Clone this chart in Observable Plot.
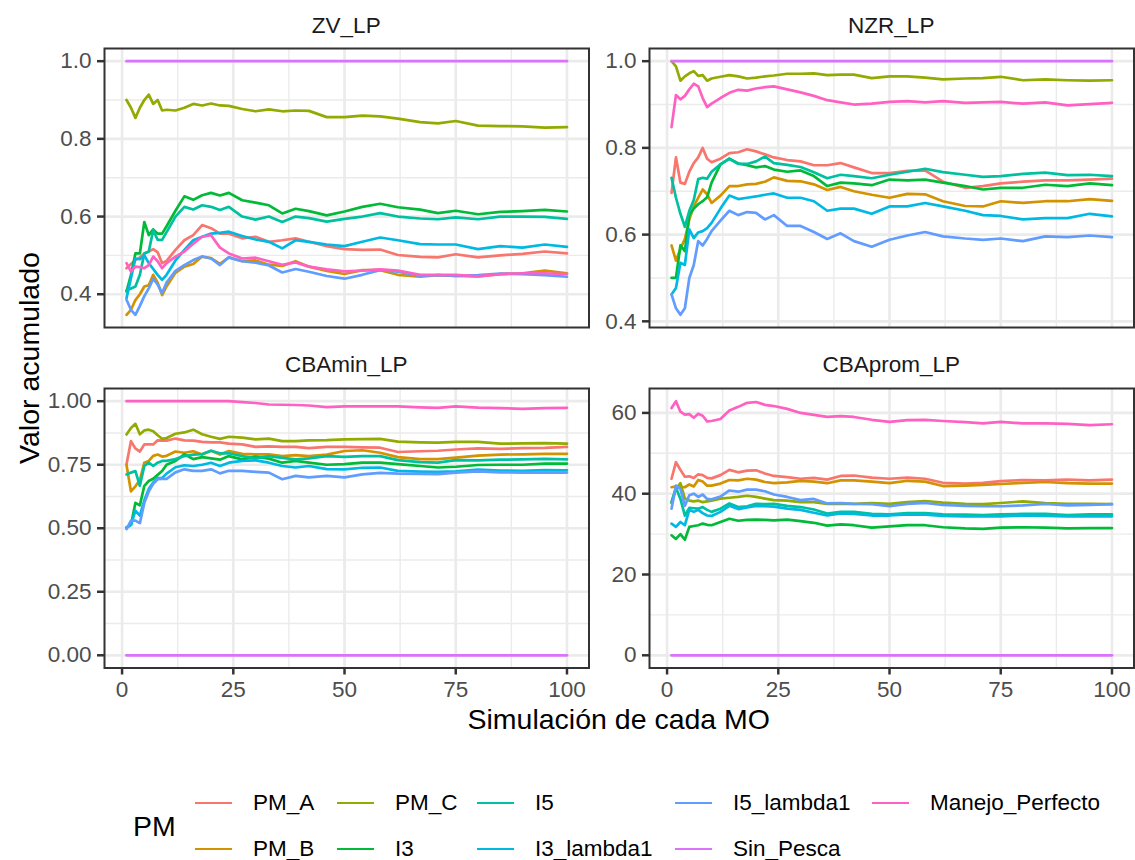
<!DOCTYPE html>
<html>
<head>
<meta charset="utf-8">
<script src="https://cdn.jsdelivr.net/npm/d3@7"></script>
<script src="https://cdn.jsdelivr.net/npm/@observablehq/plot@0.6"></script>
<style>
  html, body { margin: 0; padding: 0; background: #ffffff; }
  #chart { position: relative; width: 1135px; height: 860px; overflow: hidden; background: #ffffff;
           font-family: "Liberation Sans", Arial, sans-serif; }
  #chart svg { position: absolute; overflow: visible; }
  .txt { position: absolute; white-space: nowrap; line-height: 1; }
</style>
</head>
<body>
<div id="chart"></div>
<script>
// ---------------- data ----------------
const seriesNames  = ["PM_A","PM_B","PM_C","I3","I5","I3_lambda1","I5_lambda1","Sin_Pesca","Manejo_Perfecto"];
const seriesColors = ["#F8766D","#D39200","#93AA00","#00BA38","#00C19F","#00B9E3","#619CFF","#DB72FB","#FF61C3"];
const panelNames   = ["ZV_LP","NZR_LP","CBAmin_LP","CBAprom_LP"];

const sims     = [1,2,3,4,5,6,7,8,9,10,12,14,16,18,20,22,24,27,30,33,36,39,42,46,50,54,58,62,67,71,75,80,85,90,95,100];
const simsEnds = [1,100];

const xTicks      = [0,25,50,75,100];
const xMinor      = [12.5,37.5,62.5,87.5];
const yTicksProp  = [0.4,0.6,0.8,1.0];
const yMinorProp  = [0.5,0.7,0.9];
const yTicksMin   = [0,0.25,0.5,0.75,1.0];
const yMinorMin   = [0.125,0.375,0.625,0.875];
const yTicksProm  = [0,20,40,60];
const yMinorProm  = [10,30,50];

// ZV_LP
const zv_PM_A = [0.467,0.478,0.488,0.495,0.505,0.510,0.516,0.508,0.480,0.486,0.514,0.539,0.552,0.578,0.570,0.556,0.556,0.544,0.548,0.535,0.539,0.544,0.535,0.524,0.516,0.514,0.515,0.501,0.496,0.495,0.503,0.495,0.500,0.504,0.510,0.505];
const zv_PM_B = [0.347,0.360,0.385,0.400,0.420,0.423,0.450,0.430,0.398,0.420,0.455,0.471,0.478,0.497,0.493,0.478,0.495,0.485,0.487,0.476,0.473,0.485,0.471,0.460,0.452,0.462,0.462,0.450,0.445,0.449,0.447,0.446,0.452,0.454,0.461,0.454];
const zv_PM_C = [0.900,0.880,0.854,0.880,0.900,0.914,0.890,0.900,0.873,0.875,0.873,0.880,0.890,0.886,0.891,0.886,0.885,0.877,0.871,0.876,0.871,0.873,0.872,0.856,0.856,0.860,0.858,0.852,0.843,0.840,0.846,0.834,0.833,0.832,0.829,0.830];
const zv_I3 = [0.407,0.450,0.505,0.505,0.586,0.552,0.567,0.556,0.556,0.575,0.615,0.652,0.643,0.655,0.661,0.654,0.661,0.642,0.636,0.629,0.608,0.620,0.614,0.603,0.613,0.625,0.633,0.624,0.618,0.609,0.615,0.606,0.612,0.614,0.617,0.613];
const zv_I5 = [0.410,0.415,0.420,0.450,0.505,0.510,0.565,0.540,0.540,0.560,0.600,0.625,0.618,0.629,0.625,0.617,0.625,0.600,0.592,0.600,0.586,0.600,0.596,0.587,0.594,0.600,0.609,0.600,0.595,0.593,0.598,0.593,0.600,0.600,0.599,0.594];
const zv_I3_lambda1 = [0.390,0.441,0.492,0.490,0.500,0.480,0.465,0.450,0.437,0.450,0.487,0.514,0.539,0.548,0.556,0.558,0.561,0.550,0.541,0.535,0.518,0.539,0.535,0.528,0.524,0.535,0.546,0.539,0.529,0.528,0.528,0.516,0.524,0.520,0.528,0.522];
const zv_I5_lambda1 = [0.386,0.360,0.347,0.370,0.395,0.415,0.440,0.425,0.403,0.430,0.460,0.475,0.488,0.497,0.492,0.475,0.495,0.485,0.481,0.474,0.456,0.465,0.458,0.447,0.440,0.450,0.462,0.458,0.447,0.449,0.447,0.449,0.453,0.452,0.449,0.445];
const zv_Sin_Pesca = [1.0,1.0];
const zv_Manejo_Perfecto = [0.480,0.458,0.471,0.470,0.467,0.475,0.497,0.485,0.467,0.480,0.497,0.510,0.530,0.548,0.552,0.520,0.505,0.492,0.494,0.485,0.476,0.482,0.471,0.464,0.459,0.461,0.464,0.461,0.450,0.450,0.450,0.446,0.452,0.454,0.454,0.452];

// NZR_LP
const nzr_PM_A = [0.696,0.778,0.720,0.717,0.745,0.765,0.778,0.800,0.775,0.767,0.775,0.788,0.790,0.797,0.792,0.785,0.778,0.772,0.769,0.760,0.760,0.765,0.755,0.742,0.742,0.747,0.748,0.722,0.708,0.712,0.718,0.722,0.725,0.725,0.727,0.729];
const nzr_PM_B = [0.575,0.540,0.567,0.590,0.635,0.665,0.685,0.704,0.693,0.673,0.690,0.712,0.712,0.716,0.717,0.722,0.732,0.724,0.723,0.716,0.703,0.710,0.700,0.692,0.685,0.694,0.693,0.677,0.666,0.665,0.677,0.673,0.677,0.677,0.682,0.678];
const nzr_PM_C = [1.000,0.988,0.955,0.965,0.972,0.977,0.966,0.968,0.955,0.960,0.964,0.968,0.965,0.960,0.962,0.965,0.967,0.971,0.971,0.972,0.968,0.969,0.969,0.961,0.965,0.965,0.962,0.958,0.960,0.961,0.964,0.956,0.958,0.956,0.955,0.956];
const nzr_I3 = [0.500,0.500,0.575,0.562,0.645,0.660,0.670,0.677,0.686,0.720,0.762,0.775,0.764,0.760,0.755,0.758,0.750,0.745,0.748,0.735,0.712,0.720,0.718,0.714,0.727,0.725,0.727,0.720,0.712,0.704,0.708,0.708,0.715,0.712,0.718,0.714];
const nzr_I5 = [0.731,0.685,0.648,0.618,0.655,0.680,0.728,0.731,0.729,0.745,0.762,0.775,0.763,0.763,0.769,0.780,0.765,0.761,0.756,0.744,0.730,0.738,0.735,0.730,0.738,0.745,0.752,0.744,0.738,0.733,0.735,0.740,0.743,0.737,0.738,0.735];
const nzr_I3_lambda1 = [0.462,0.477,0.535,0.530,0.612,0.592,0.605,0.608,0.615,0.627,0.660,0.690,0.682,0.685,0.688,0.692,0.695,0.685,0.685,0.677,0.655,0.660,0.660,0.648,0.665,0.665,0.673,0.665,0.655,0.645,0.643,0.635,0.638,0.638,0.648,0.642];
const nzr_I5_lambda1 = [0.462,0.430,0.415,0.430,0.500,0.530,0.585,0.575,0.590,0.608,0.632,0.655,0.645,0.652,0.650,0.635,0.645,0.620,0.620,0.606,0.590,0.603,0.585,0.572,0.588,0.598,0.606,0.596,0.591,0.588,0.591,0.585,0.596,0.594,0.598,0.594];
const nzr_Sin_Pesca = [1.0,1.0];
const nzr_Manejo_Perfecto = [0.848,0.922,0.912,0.920,0.935,0.948,0.942,0.915,0.894,0.902,0.915,0.927,0.934,0.932,0.937,0.940,0.942,0.935,0.928,0.920,0.910,0.905,0.900,0.902,0.906,0.908,0.905,0.908,0.904,0.905,0.906,0.902,0.905,0.898,0.901,0.904];

// CBAmin_LP
const cmin_PM_A = [0.752,0.843,0.814,0.802,0.830,0.830,0.830,0.846,0.845,0.845,0.853,0.846,0.845,0.840,0.838,0.838,0.833,0.830,0.820,0.822,0.820,0.820,0.815,0.820,0.820,0.818,0.817,0.800,0.803,0.805,0.810,0.814,0.812,0.815,0.816,0.820];
const cmin_PM_B = [0.749,0.645,0.665,0.690,0.758,0.765,0.785,0.790,0.782,0.785,0.802,0.797,0.803,0.790,0.805,0.790,0.804,0.793,0.791,0.791,0.784,0.788,0.784,0.790,0.804,0.807,0.797,0.780,0.772,0.772,0.778,0.786,0.790,0.791,0.793,0.793];
const cmin_PM_C = [0.869,0.895,0.911,0.870,0.885,0.888,0.882,0.866,0.852,0.855,0.872,0.877,0.888,0.870,0.860,0.852,0.860,0.857,0.850,0.853,0.843,0.843,0.846,0.847,0.850,0.851,0.852,0.841,0.838,0.837,0.840,0.840,0.833,0.834,0.835,0.833];
const cmin_I3 = [0.503,0.513,0.600,0.590,0.667,0.686,0.695,0.710,0.725,0.750,0.765,0.791,0.772,0.780,0.775,0.770,0.784,0.771,0.782,0.774,0.758,0.765,0.758,0.750,0.752,0.758,0.758,0.752,0.745,0.739,0.742,0.749,0.750,0.750,0.754,0.754];
const cmin_I5 = [0.712,0.719,0.725,0.667,0.745,0.758,0.745,0.758,0.765,0.765,0.772,0.784,0.790,0.792,0.805,0.795,0.795,0.784,0.775,0.784,0.777,0.771,0.775,0.784,0.781,0.784,0.784,0.768,0.760,0.758,0.768,0.767,0.770,0.771,0.773,0.771];
const cmin_I3_lambda1 = [0.503,0.513,0.569,0.550,0.610,0.655,0.680,0.697,0.698,0.715,0.740,0.748,0.745,0.750,0.758,0.745,0.758,0.765,0.767,0.758,0.745,0.739,0.745,0.733,0.732,0.738,0.739,0.726,0.723,0.722,0.724,0.731,0.727,0.726,0.729,0.728];
const cmin_I5_lambda1 = [0.497,0.530,0.530,0.520,0.600,0.645,0.675,0.693,0.694,0.694,0.720,0.732,0.726,0.726,0.732,0.716,0.726,0.726,0.722,0.719,0.693,0.706,0.700,0.706,0.700,0.712,0.718,0.715,0.714,0.713,0.719,0.724,0.720,0.719,0.719,0.719];
const cmin_Sin_Pesca = [0.0,0.0];
const cmin_Manejo_Perfecto = [1.000,1.000,1.000,1.000,1.000,1.000,1.000,1.000,1.000,1.000,1.000,1.000,1.000,1.000,1.000,1.000,1.000,0.996,0.993,0.987,0.986,0.985,0.983,0.977,0.980,0.980,0.980,0.980,0.976,0.974,0.980,0.975,0.973,0.970,0.973,0.974];

// CBAprom_LP
const cprom_PM_A = [43.7,47.8,45.9,44.2,44.3,43.9,44.8,44.6,43.9,43.8,44.6,45.9,45.3,45.7,45.8,45.0,44.4,44.1,43.7,43.9,43.5,44.4,44.5,44.0,43.7,44.0,43.7,42.7,42.5,42.7,43.1,43.4,43.3,43.5,43.3,43.5];
const cprom_PM_B = [41.6,41.8,41.7,41.6,42.3,41.8,43.4,43.0,42.0,42.0,42.5,43.4,43.3,43.7,43.5,42.9,42.6,42.8,43.2,43.0,42.6,43.3,43.3,43.0,42.6,43.2,43.0,41.9,42.0,42.2,42.4,42.7,42.9,42.6,42.5,42.5];
const cprom_PM_C = [37.7,41.2,42.6,38.8,38.3,38.1,38.3,37.9,38.1,38.3,38.8,39.0,39.2,39.5,39.2,38.8,38.4,38.3,37.9,37.9,37.5,37.5,37.5,37.7,37.5,37.9,38.2,37.8,37.5,37.4,37.7,38.1,37.7,37.5,37.5,37.4];
const cprom_I3 = [29.7,28.8,30.0,28.6,31.8,32.0,32.2,32.6,32.3,32.2,33.0,33.8,33.3,33.5,33.6,33.5,33.4,33.6,33.2,32.8,32.1,32.4,32.2,31.6,31.9,32.2,32.2,31.7,31.4,31.3,31.6,31.7,31.6,31.4,31.5,31.5];
const cprom_I5 = [38.0,41.5,38.7,34.6,36.5,36.4,36.3,36.7,36.0,35.5,36.3,37.6,36.7,36.9,37.5,37.4,37.5,37.0,36.7,36.1,35.1,35.5,35.5,35.0,34.9,35.2,35.2,34.9,34.8,34.7,34.9,35.0,35.0,34.7,34.9,34.9];
const cprom_I3_lambda1 = [32.6,31.8,33.0,32.2,36.0,35.5,36.0,35.2,34.6,34.5,35.5,37.0,36.2,36.6,37.0,36.9,36.8,36.3,36.0,35.3,34.6,35.1,35.0,34.6,34.6,34.9,34.8,34.5,34.4,34.4,34.4,34.6,34.5,34.4,34.4,34.4];
const cprom_I5_lambda1 = [36.3,42.0,41.2,37.0,39.6,40.0,39.2,39.8,38.7,38.6,39.3,40.8,40.5,41.0,41.0,40.6,39.8,39.2,38.4,38.7,37.6,37.7,37.5,37.4,36.9,37.5,37.7,37.2,37.0,36.9,36.9,37.1,37.5,37.1,37.2,37.4];
const cprom_Sin_Pesca = [0,0];
const cprom_Manejo_Perfecto = [61.2,62.9,60.3,59.6,59.7,58.8,59.8,59.3,57.9,58.0,58.5,60.6,61.5,62.5,62.7,62.0,61.7,61.0,60.0,59.5,59.0,59.2,59.0,58.3,57.8,58.2,58.3,58.0,57.7,57.4,57.8,57.4,57.4,57.3,57.0,57.2];

// ---------------- layout / style ----------------
const FONT = '"Liberation Sans", Arial, sans-serif';
const FS = 22.5;    // small text (ticks, strips, legend labels)
const FT = 28.5;    // titles

const panelSeries = [
  [zv_PM_A, zv_PM_B, zv_PM_C, zv_I3, zv_I5, zv_I3_lambda1, zv_I5_lambda1, zv_Sin_Pesca, zv_Manejo_Perfecto],
  [nzr_PM_A, nzr_PM_B, nzr_PM_C, nzr_I3, nzr_I5, nzr_I3_lambda1, nzr_I5_lambda1, nzr_Sin_Pesca, nzr_Manejo_Perfecto],
  [cmin_PM_A, cmin_PM_B, cmin_PM_C, cmin_I3, cmin_I5, cmin_I3_lambda1, cmin_I5_lambda1, cmin_Sin_Pesca, cmin_Manejo_Perfecto],
  [cprom_PM_A, cprom_PM_B, cprom_PM_C, cprom_I3, cprom_I5, cprom_I3_lambda1, cprom_I5_lambda1, cprom_Sin_Pesca, cprom_Manejo_Perfecto]
];
const panelTicks = [yTicksProp, yTicksProp, yTicksMin, yTicksProm];
const panelMinor = [yMinorProp, yMinorProp, yMinorMin, yMinorProm];
const panelFmt   = [d => d.toFixed(1), d => d.toFixed(1), d => d.toFixed(2), d => d3.format("d")(d)];
const panelFrame = [[104,48,588.5,327],[649,48,1133.5,327],[104,388,588.5,667.5],[649,388,1133.5,667.5]];
const panelXAxis = [false,false,true,true];
const stripY     = [25.5,25.5,365,365];

const chart = document.getElementById("chart");

function addText(str, x, y, opts) {
  const d = document.createElement("div");
  d.className = "txt";
  d.textContent = str;
  d.style.left = x + "px";
  d.style.top = y + "px";
  d.style.fontSize = (opts.size || FS) + "px";
  d.style.color = opts.color || "#000000";
  if (opts.anchor === "start") {
    d.style.transform = "translateY(-50%)";
  } else if (opts.rotate) {
    d.style.transform = "translate(-50%,-50%) rotate(-90deg)";
  } else {
    d.style.transform = "translate(-50%,-50%)";
  }
  chart.appendChild(d);
  return d;
}

panelNames.forEach((name, i) => {
  const rows = [];
  seriesNames.forEach((s, j) => {
    const vals = panelSeries[i][j];
    const xs = vals.length === sims.length ? sims : simsEnds;
    vals.forEach((v, k) => rows.push({panel: name, series: s, sim: xs[k], value: v}));
  });
  const [x0, y0, x1, y1] = panelFrame[i];
  const mL = 100, mT = 2, mR = 2, mB = panelXAxis[i] ? 45 : 2;
  const width = (x1 - x0) + mL + mR, height = (y1 - y0) + mT + mB;
  const [lo, hi] = d3.extent(rows, d => d.value);
  const pad = (hi - lo) * 0.05;

  const svg = Plot.plot({
    width, height,
    marginLeft: mL, marginTop: mT, marginRight: mR, marginBottom: mB,
    style: {fontFamily: FONT, fontSize: FS + "px", background: "transparent", overflow: "visible"},
    x: {domain: [-3.95, 104.95], axis: null},
    y: {domain: [lo - pad, hi + pad], axis: null},
    color: {domain: seriesNames, range: seriesColors},
    marks: [
      Plot.gridX(xMinor, {stroke: "#EBEBEB", strokeOpacity: 1, strokeWidth: 1.4}),
      Plot.gridY(panelMinor[i], {stroke: "#EBEBEB", strokeOpacity: 1, strokeWidth: 1.4}),
      Plot.gridX(xTicks, {stroke: "#EBEBEB", strokeOpacity: 1, strokeWidth: 2.7}),
      Plot.gridY(panelTicks[i], {stroke: "#EBEBEB", strokeOpacity: 1, strokeWidth: 2.7}),
      Plot.line(rows, {x: "sim", y: "value", z: "series", stroke: "series", strokeWidth: 2.7, strokeLinejoin: "round"}),
      Plot.frame({stroke: "#333333", strokeWidth: 2}),
      Plot.axisY(panelTicks[i], {tickSize: 7, tickPadding: 6, tickFormat: panelFmt[i], label: null,
        stroke: "#333333", strokeWidth: 2.5, fill: "#4D4D4D", fontSize: FS}),
      panelXAxis[i] ? Plot.axisX(xTicks, {tickSize: 7, tickPadding: 6, tickFormat: d => String(d), label: null,
        stroke: "#333333", strokeWidth: 2.5, fill: "#4D4D4D", fontSize: FS}) : null
    ]
  });
  svg.style.left = (x0 - mL) + "px";
  svg.style.top = (y0 - mT) + "px";
  chart.appendChild(svg);

  addText(name, (x0 + x1) / 2, stripY[i], {size: FS, color: "#1A1A1A"});
});

// axis titles
addText("Simulación de cada MO", 618.75, 719, {size: FT});
addText("Valor acumulado", 29, 357.75, {size: FT, rotate: true});

// legend
addText("PM", 133, 826, {size: FT, anchor: "start"});
const legendCols = [195, 337, 477, 675, 872];
const legendRows = [803, 849];
seriesNames.forEach((s, i) => {
  const cx = legendCols[Math.floor(i / 2)], cy = legendRows[i % 2];
  const key = document.createElement("div");
  key.style.cssText = `position:absolute;left:${cx}px;top:${cy - 1.4}px;width:37px;height:2.8px;background:${seriesColors[i]};`;
  chart.appendChild(key);
  addText(s, cx + 58, cy, {size: FS, anchor: "start"});
});
</script>
</body>
</html>
